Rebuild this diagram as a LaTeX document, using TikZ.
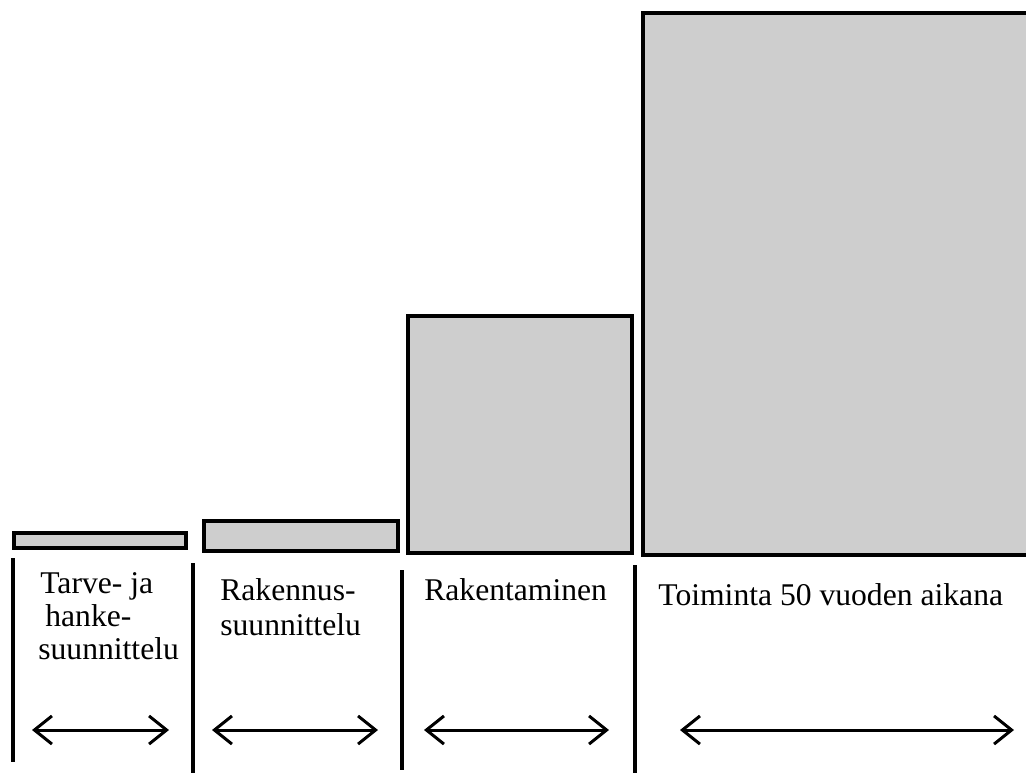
\documentclass[tikz,border=0pt]{standalone}
\usepackage{fontspec}
\setmainfont{Liberation Serif}
\usetikzlibrary{arrows.meta}
\definecolor{barGrey}{RGB}{206,206,206}
\newcommand{\phaseBar}[4]{%%
  %% Draw one grey bar of the phase cost.
  \draw[barStyle] (#1,#2) rectangle (#3,#4);
}
\newcommand{\phaseSep}[4]{%%
  %% Vertical line between two phases.
  \coordinate (#1Top) at (#2,#3);
  \coordinate (#1Bot) at (#2,#4);
  \draw[sepStyle] (#1Top) -- (#1Bot);
}
\newcommand{\phaseSpan}[3]{%%
  %% Double arrow giving the length of a phase.
  \coordinate (#1L) at (#2,730);
  \coordinate (#1R) at (#3,730);
  \draw[spanStyle] (#1L) -- (#1R);
}

\begin{document}
\begin{tikzpicture}[%%
  x=0.02cm,y=-0.02cm,
  barStyle/.style={draw=black,fill=barGrey,line width=2.3pt},%%
  sepStyle/.style={-,line width=2.2pt},%%
  spanStyle/.style={{Straight Barb[length=10pt,width=16pt]}-{Straight Barb[length=10pt,width=16pt]},line width=1.7pt},%%
  labelStyle/.style={anchor=base west,inner sep=0pt,font=\fontsize{18}{21}\selectfont}
]
\useasboundingbox (0,0) rectangle (1026,772);
%%
%% Bars of the four phases.
\phaseBar{14}{533}{186}{548}
\phaseBar{204}{521}{398}{551}
\phaseBar{408}{316}{632}{553}
\phaseBar{643}{13}{1045}{555}
%%
%% Separating lines.
\phaseSep{sepA}{13}{558}{762}
\phaseSep{sepB}{193}{563}{775}
\phaseSep{sepC}{402}{570}{770}
\phaseSep{sepD}{635}{565}{775}
%%
%% Names of the phases.
\node[labelStyle] (tarveA) at (40,593) {Tarve- ja};
\node[labelStyle] (tarveB) at (45,626) {hanke-};
\node[labelStyle] (tarveC) at (38,659) {suunnittelu};
\node[labelStyle] (rakA) at (220,600) {Rakennus-};
\node[labelStyle] (rakB) at (220,635) {suunnittelu};
\node[labelStyle] (rakentaminen) at (424,600) {Rakentaminen};
\node[labelStyle] (toiminta) at (658,605) {Toiminta 50 vuoden aikana};
%%
%% Length of each phase.
\phaseSpan{spanA}{32}{169}
\phaseSpan{spanB}{212}{378}
\phaseSpan{spanC}{424}{609}
\phaseSpan{spanD}{680}{1014}
\end{tikzpicture}
\end{document}
